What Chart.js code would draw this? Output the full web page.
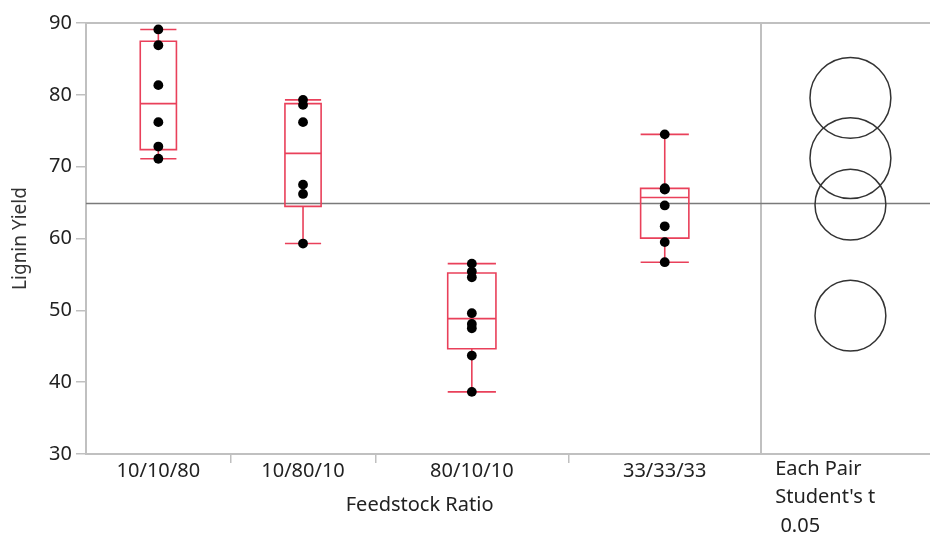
<!DOCTYPE html>
<html>
<head>
<meta charset="utf-8">
<script src="https://cdn.jsdelivr.net/npm/chart.js@4/dist/chart.umd.min.js"></script>
<style>
  html, body { margin: 0; padding: 0; background: #fff; }
  #wrap { width: 930px; height: 535px; }
</style>
</head>
<body>
<div id="wrap"><canvas id="c" width="930" height="535"></canvas></div>
<script>
// Lignin yield by feedstock ratio, one array per group
const categories = ['10/10/80', '10/80/10', '80/10/10', '33/33/33'];
const yield_10_10_80 = [89.1, 86.9, 81.35, 76.2, 72.8, 71.1];
const yield_10_80_10 = [79.3, 78.6, 76.2, 67.5, 66.2, 59.3];
const yield_80_10_10 = [56.5, 55.4, 54.6, 49.6, 48.1, 47.5, 43.7, 38.65];
const yield_33_33_33 = [74.5, 67.0, 66.9, 66.8, 64.6, 61.7, 59.5, 56.7];
const yTicks = [30, 40, 50, 60, 70, 80, 90];
// comparison circle radii (Student's t, alpha 0.05), in yield units
const circleRadius = [5.63, 5.63, 4.93, 4.93];
const panelLabel = ['Each Pair', "Student's t", ' 0.05'];
const xTitle = 'Feedstock Ratio';
const yTitle = 'Lignin Yield';

const groups = [yield_10_10_80, yield_10_80_10, yield_80_10_10, yield_33_33_33];

// each group gets a slot as wide as its sample size
const bounds = [0];
groups.forEach(g => bounds.push(bounds[bounds.length - 1] + g.length));
const groupEnd = bounds[bounds.length - 1];
const centers = groups.map((g, i) => (bounds[i] + bounds[i + 1]) / 2);
const PANEL_UNITS = 7.0;
const xMax = groupEnd + PANEL_UNITS;
const circleX = groupEnd + 3.7;

// quantile by the (n+1)p rule
function quantile(sorted, p) {
  const pos = (sorted.length + 1) * p;
  const i = Math.floor(pos), f = pos - i;
  if (i < 1) return sorted[0];
  if (i >= sorted.length) return sorted[sorted.length - 1];
  return sorted[i - 1] + f * (sorted[i] - sorted[i - 1]);
}
const stats = groups.map(g => {
  const s = [...g].sort((a, b) => a - b);
  const q1 = quantile(s, 0.25), med = quantile(s, 0.5), q3 = quantile(s, 0.75);
  const iqr = q3 - q1;
  const lo = s.find(v => v >= q1 - 1.5 * iqr);
  const hi = [...s].reverse().find(v => v <= q3 + 1.5 * iqr);
  return { q1, med, q3, lo, hi };
});
const means = groups.map(g => g.reduce((a, b) => a + b, 0) / g.length);
const all = groups.flat();
const grandMean = all.reduce((a, b) => a + b, 0) / all.length;

const FONT = 'Noto Sans';
const RED = '#E9405A';
const AXIS = '#c0c0c0';

const boxPlugin = {
  id: 'boxes',
  beforeDatasetsDraw(chart) {
    const { ctx, scales: { x, y }, chartArea: a } = chart;
    ctx.save();
    // frame top, panel divider, grand mean line
    ctx.strokeStyle = AXIS; ctx.lineWidth = 2;
    ctx.beginPath();
    ctx.moveTo(a.left, a.top); ctx.lineTo(a.right, a.top);
    const xd = Math.round(x.getPixelForValue(groupEnd));
    ctx.moveTo(xd, a.top); ctx.lineTo(xd, a.bottom);
    ctx.stroke();
    ctx.strokeStyle = '#7a7a7a'; ctx.lineWidth = 1.5;
    ctx.beginPath();
    const ym = y.getPixelForValue(grandMean);
    ctx.moveTo(a.left, ym); ctx.lineTo(a.right, ym);
    ctx.stroke();

    // box plots
    ctx.strokeStyle = RED; ctx.lineWidth = 1.6;
    stats.forEach((s, i) => {
      const half = (bounds[i + 1] - bounds[i]) / 8;
      const xl = x.getPixelForValue(centers[i] - half);
      const xr = x.getPixelForValue(centers[i] + half);
      const xc = x.getPixelForValue(centers[i]);
      const p = v => y.getPixelForValue(v);
      ctx.beginPath();
      ctx.rect(xl, p(s.q3), xr - xl, p(s.q1) - p(s.q3));
      ctx.moveTo(xl, p(s.med)); ctx.lineTo(xr, p(s.med));
      ctx.moveTo(xc, p(s.q3)); ctx.lineTo(xc, p(s.hi));
      ctx.moveTo(xc, p(s.q1)); ctx.lineTo(xc, p(s.lo));
      ctx.moveTo(xl, p(s.hi)); ctx.lineTo(xr, p(s.hi));
      ctx.moveTo(xl, p(s.lo)); ctx.lineTo(xr, p(s.lo));
      ctx.stroke();
    });
    ctx.restore();
  },
  afterDraw(chart) {
    const { ctx, scales: { x } } = chart;
    ctx.save();
    ctx.fillStyle = '#222';
    ctx.font = `20px "${FONT}"`;
    ctx.textBaseline = 'middle';
    ctx.textAlign = 'center';
    ctx.fillText(xTitle, x.getPixelForValue(groupEnd / 2) - 4, 505);
    ctx.textAlign = 'left';
    const lx = x.getPixelForValue(groupEnd) + 14;
    panelLabel.forEach((t, k) => ctx.fillText(t, lx, 469 + k * 28.5));
    ctx.restore();
  }
};

const datasets = groups.map((g, i) => ({
  data: g.map(v => ({ x: centers[i], y: v })),
  pointRadius: 4.9,
  pointBackgroundColor: '#000',
  pointBorderWidth: 0
}));
datasets.push({
  data: means.map(m => ({ x: circleX, y: m })),
  pointRadius: c => {
    const y = c.chart.scales.y;
    const i = c.dataIndex;
    return Math.abs(y.getPixelForValue(means[i]) - y.getPixelForValue(means[i] + circleRadius[i]));
  },
  pointBackgroundColor: 'rgba(0,0,0,0)',
  pointBorderColor: '#333',
  pointBorderWidth: 1.5
});

const tickFont = { family: FONT, size: 20 };

new Chart(document.getElementById('c'), {
  type: 'scatter',
  data: { datasets },
  options: {
    responsive: false,
    animation: false,
    events: [],
    layout: { autoPadding: false, padding: { top: 23, right: 0, left: 0, bottom: 0 } },
    plugins: { legend: { display: false }, tooltip: { enabled: false } },
    scales: {
      x: {
        type: 'linear', min: 0, max: xMax,
        afterFit(s) { s.height = 535 - 23 - 431; },
        afterBuildTicks(s) {
          const t = [];
          centers.forEach(c => t.push({ value: c }));
          bounds.slice(1, -1).forEach(b => t.push({ value: b }));
          t.sort((a, b) => a.value - b.value);
          s.ticks = t;
        },
        grid: {
          drawOnChartArea: false, tickLength: 9, lineWidth: 1.5,
          tickColor: c => (c.tick && centers.includes(c.tick.value)) ? 'rgba(0,0,0,0)' : AXIS
        },
        border: { color: AXIS, width: 2 },
        ticks: {
          autoSkip: false, maxRotation: 0, padding: -4,
          color: '#222', font: tickFont,
          callback: v => {
            const i = centers.indexOf(v);
            return i >= 0 ? categories[i] : '';
          }
        }
      },
      y: {
        min: 30, max: 90,
        afterFit(s) { s.width = 86; },
        afterBuildTicks(s) { s.ticks = yTicks.map(v => ({ value: v })); },
        grid: { drawOnChartArea: false, tickLength: 10, color: AXIS, lineWidth: 1.5 },
        border: { color: AXIS, width: 2 },
        ticks: { padding: 4, color: '#222', font: tickFont },
        title: { display: true, text: yTitle, color: '#333', font: { family: FONT, size: 19 }, padding: { top: 9, bottom: 0 } }
      }
    }
  },
  plugins: [boxPlugin]
});
</script>
</body>
</html>
